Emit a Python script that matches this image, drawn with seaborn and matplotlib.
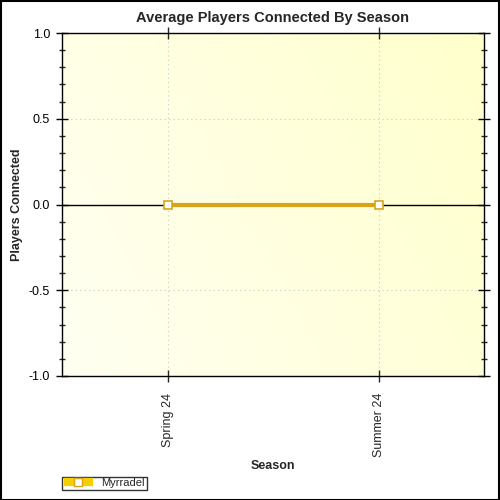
import numpy as np
import pandas as pd
import matplotlib
matplotlib.use('Agg')
import matplotlib.pyplot as plt
from matplotlib.lines import Line2D
from matplotlib.patches import Rectangle
from matplotlib.ticker import MultipleLocator
import seaborn as sns

seasons = ['Spring 24', 'Summer 24']
players = [0.0, 0.0]
series_name = 'Myrradel'

sns.set_style('white')
plt.rcParams['font.family'] = ['Liberation Sans', 'DejaVu Sans']

df = pd.DataFrame({'Season': seasons, 'Players Connected': players})

fig = plt.figure(figsize=(5, 5), dpi=100)
ax = fig.add_axes([0.124, 0.248, 0.844, 0.686])

# gradient background
grad = np.linspace(0, 1, 256)
gx, gy = np.meshgrid(grad, grad)
g = (gx * 0.7 + (1 - gy) * 0.3)
rgb = np.zeros((256, 256, 3))
rgb[..., 0] = 1.0
rgb[..., 1] = 1.0
rgb[..., 2] = (242 - 38 * g) / 255
ax.imshow(rgb, extent=[-0.5, 1.5, -1, 1], aspect='auto', zorder=0, origin='upper')

ax.axhline(0, color='black', lw=1, zorder=2)
sns.lineplot(data=df, x='Season', y='Players Connected', ax=ax, color='#d9a41c',
             lw=3, marker='s', markersize=6, markerfacecolor='white',
             markeredgecolor='#d9a41c', markeredgewidth=1.2, zorder=3)

ax.set_xlim(-0.5, 1.5)
ax.set_ylim(-1, 1)
ax.yaxis.set_major_locator(MultipleLocator(0.5))
ax.yaxis.set_minor_locator(MultipleLocator(0.1))
ax.set_yticks([1.0, 0.5, 0.0, -0.5, -1.0])
ax.set_yticklabels(['1.0', '0.5', '0.0', '-0.5', '-1.0'])
ax.set_xticks([0, 1])
ax.set_xticklabels(seasons, rotation=90)

ax.grid(True, which='major', color='#c8c8c8', ls=(0, (1, 3)), lw=0.8, zorder=1)
for s in ax.spines.values():
    s.set_color('black')
    s.set_linewidth(1)

ax.tick_params(axis='y', which='major', direction='inout', length=9, width=1,
               left=True, right=True, labelsize=9, colors='black', pad=4)
ax.tick_params(axis='y', which='minor', direction='inout', length=5, width=1,
               left=True, right=True)
ax.tick_params(axis='x', which='major', direction='inout', length=8, width=1,
               bottom=True, top=True, labelsize=9, pad=8)

ax.set_xlabel('Season', fontsize=9, fontweight='bold', labelpad=2)
ax.set_ylabel('Players Connected', fontsize=9, fontweight='bold')
ax.yaxis.set_label_coords(-0.093, 0.5)
ax.set_title('Average Players Connected By Season', fontsize=10.5,
             fontweight='bold', pad=8)

handle = Line2D([0], [0], color='#f5d000', lw=6, marker='s', markersize=6,
                markerfacecolor='white', markeredgecolor='#d9a41c',
                solid_capstyle='butt')
leg = fig.legend([handle], [series_name], loc='lower left',
                 bbox_to_anchor=(0.124, 0.02), fontsize=8, frameon=True,
                 fancybox=False, handlelength=2.6, borderpad=0.15,
                 handletextpad=0.8, borderaxespad=0)
leg.get_frame().set_edgecolor('black')
leg.get_frame().set_linewidth(1)

fig.patches.append(Rectangle((0.001, 0.001), 0.997, 0.997, transform=fig.transFigure,
                             fill=False, edgecolor='black', lw=1.5))

fig.savefig('out.png', dpi=100)
